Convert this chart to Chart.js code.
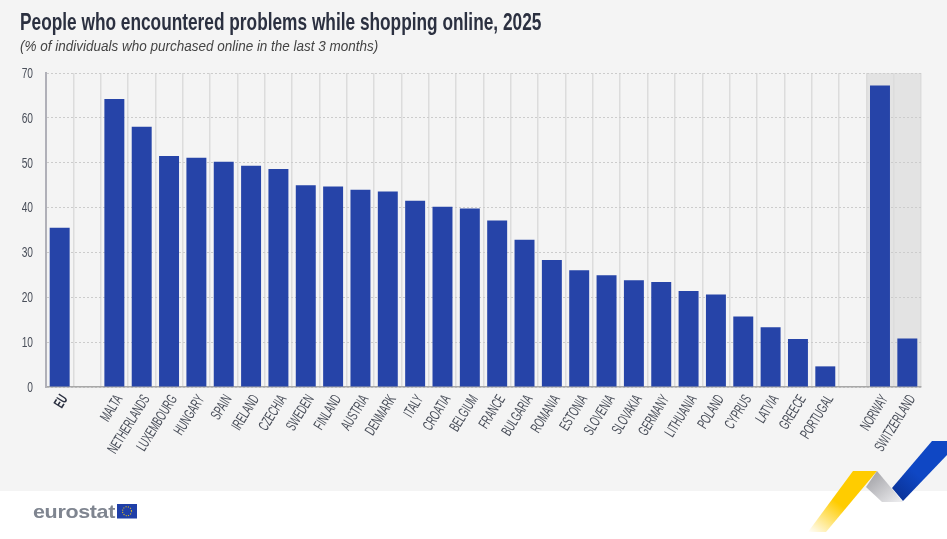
<!DOCTYPE html>
<html>
<head>
<meta charset="utf-8">
<script src="https://cdn.jsdelivr.net/npm/chart.js@4/dist/chart.umd.min.js"></script>
<style>
  html, body { margin: 0; padding: 0; background: #fff; }
  #page { position: relative; width: 947px; height: 539px; overflow: hidden; background: #fff; }
  #panel { position: absolute; left: 0; top: 0; width: 947px; height: 491px; background: #f4f4f4; }
  #chartBox { position: absolute; left: 0; top: 0; width: 947px; height: 539px; }
  #title { position: absolute; left: 20px; top: 8px; font: bold 24px "Liberation Sans", sans-serif; color: #2b3040; white-space: nowrap; transform: scaleX(0.72); transform-origin: left top; }
  #subtitle { position: absolute; left: 20px; top: 38px; font: italic 14.5px "Liberation Sans", sans-serif; color: #444; white-space: nowrap; transform: scaleX(0.93); transform-origin: left top; }
  #logo { position: absolute; left: 33px; top: 501px; font: bold 19px "Liberation Sans", sans-serif; color: #7f8590; letter-spacing: -0.3px; transform: scaleX(1.13); transform-origin: left top; }
  #art { position: absolute; left: 0; top: 0; }
</style>
</head>
<body>
<div id="page">
  <div id="panel"></div>
  <svg id="art" width="947" height="539">
    <defs>
      <linearGradient id="gold" x1="0" y1="1" x2="0.6" y2="0.3"><stop offset="0" stop-color="#ffffff"/><stop offset="0.7" stop-color="#ffcc00"/></linearGradient>
      <linearGradient id="grey" x1="0" y1="0" x2="1" y2="1"><stop offset="0" stop-color="#9a9a9f"/><stop offset="1" stop-color="#f0f0f2"/></linearGradient>
      <linearGradient id="blue" x1="0" y1="1" x2="0.7" y2="0.2"><stop offset="0" stop-color="#0a2f8f"/><stop offset="0.6" stop-color="#0f47c4"/></linearGradient>
    </defs>
    <polygon points="808,532 853,471 877,471 826,532" fill="url(#gold)"/>
    <polygon points="877,471 866,487 882,502 903,502" fill="url(#grey)"/>
    <polygon points="892,488 932,441 947,441 947,455 903,501" fill="url(#blue)"/>
    <rect x="117" y="504" width="20" height="14.5" fill="#1f3fa8"/>
    <circle cx="127" cy="511.2" r="4.5" fill="none" stroke="#d8b92a" stroke-width="1.2" stroke-dasharray="1 1.4"/>
  </svg>
  <div id="chartBox"><canvas id="chart" width="947" height="539"></canvas></div>
  <div id="title">People who encountered problems while shopping online, 2025</div>
  <div id="subtitle">(% of individuals who purchased online in the last 3 months)</div>
  <div id="logo">eurostat</div>
</div>
<script>
const categories = ['EU', ' ', 'MALTA', 'NETHERLANDS', 'LUXEMBOURG', 'HUNGARY', 'SPAIN', 'IRELAND', 'CZECHIA', 'SWEDEN', 'FINLAND', 'AUSTRIA', 'DENMARK', 'ITALY', 'CROATIA', 'BELGIUM', 'FRANCE', 'BULGARIA', 'ROMANIA', 'ESTONIA', 'SLOVENIA', 'SLOVAKIA', 'GERMANY', 'LITHUANIA', 'POLAND', 'CYPRUS', 'LATVIA', 'GREECE', 'PORTUGAL', '  ', 'NORWAY', 'SWITZERLAND']
const values = [35.5, null, 64.2, 58, 51.5, 51.1, 50.2, 49.3, 48.6, 45, 44.7, 44, 43.6, 41.5, 40.2, 39.8, 37.1, 32.8, 28.3, 26, 24.9, 23.8, 23.4, 21.4, 20.6, 15.7, 13.3, 10.7, 4.6, null, 67.2, 10.8]
const yTicks = [0, 10, 20, 30, 40, 50, 60, 70]

const bandPlugin = {
  id: 'bands',
  beforeDraw(chart) {
    const {ctx, chartArea, scales: {x}} = chart
    const step = x.getPixelForValue(1) - x.getPixelForValue(0)
    const left = x.getPixelForValue(categories.indexOf('NORWAY')) - step / 2
    ctx.save()
    ctx.fillStyle = '#e3e3e3'
    ctx.fillRect(left, chartArea.top, chartArea.right - left, chartArea.height)
    ctx.restore()
  }
}

// no condensed font installed, so the axis labels are squeezed by hand
const squeezedLabels = {
  id: 'squeezedLabels',
  afterDraw(chart) {
    const {ctx, chartArea, scales: {x, y}} = chart
    categories.forEach((name, i) => {
      if (!name.trim()) return
      ctx.save()
      ctx.translate(x.getPixelForValue(i) + 5, chartArea.bottom + 9.5)
      ctx.rotate(-58 * Math.PI / 180)
      ctx.scale(0.59, 1)
      ctx.textAlign = 'right'
      ctx.textBaseline = 'middle'
      ctx.fillStyle = i === 0 ? '#2b3040' : '#4a4f5a'
      ctx.font = (i === 0 ? 'bold ' : '') + '15px "Liberation Sans", sans-serif'
      ctx.fillText(name, 0, 0)
      ctx.restore()
    })
    yTicks.forEach(v => {
      ctx.save()
      ctx.translate(33, y.getPixelForValue(v) + 1)
      ctx.scale(0.73, 1)
      ctx.textAlign = 'right'
      ctx.textBaseline = 'middle'
      ctx.fillStyle = '#4a4f5a'
      ctx.font = '14px "Liberation Sans", sans-serif'
      ctx.fillText(String(v), 0, 0)
      ctx.restore()
    })
  }
}

new Chart(document.getElementById('chart'), {
  type: 'bar',
  data: {
    labels: categories,
    datasets: [{
      data: values,
      backgroundColor: '#2644a8',
      barPercentage: 0.73,
      categoryPercentage: 1
    }]
  },
  options: {
    responsive: false,
    animation: false,
    layout: { padding: { top: 73, right: 26, left: 0, bottom: 0 } },
    plugins: { legend: { display: false }, tooltip: { enabled: false } },
    scales: {
      x: {
        afterFit: s => { s.height = 152 },
        border: { color: '#a8a8a8', width: 1.5 },
        grid: { color: '#dcdcdc', lineWidth: 1.5, drawTicks: false },
        ticks: { display: false }
      },
      y: {
        min: 0,
        max: 70,
        afterFit: s => { s.width = 46 },
        afterBuildTicks: s => { s.ticks = yTicks.map(value => ({ value })) },
        border: { color: '#b0b0b8', width: 2, dash: [2, 2] },
        grid: { color: '#cccccc', lineWidth: 1, drawTicks: false },
        ticks: { display: false }
      }
    }
  },
  plugins: [bandPlugin, squeezedLabels]
})
</script>
</body>
</html>
